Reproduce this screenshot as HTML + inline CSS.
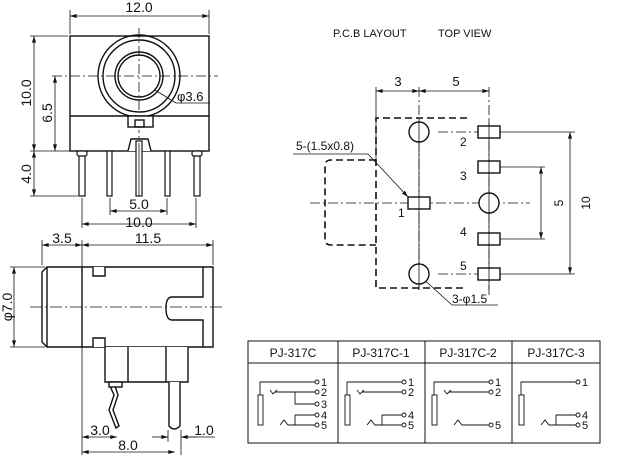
<!DOCTYPE html>
<html><head><meta charset="utf-8"><style>
html,body{margin:0;padding:0;background:#fff;}
svg{display:block;}
text{font-family:"Liberation Sans",sans-serif;fill:#111;}
</style></head><body>
<svg width="620" height="459" viewBox="0 0 620 459" xmlns="http://www.w3.org/2000/svg">
<defs>
<marker id="a" viewBox="0 0 10 6" refX="10" refY="3" markerWidth="10" markerHeight="4" orient="auto-start-reverse" markerUnits="userSpaceOnUse"><path d="M0,0 L10,3 L0,6z" fill="#111"/></marker>
</defs>
<g stroke="#111" fill="none" stroke-width="1.4">
<rect x="70" y="36" width="139" height="115"/>
<line x1="70" y1="116" x2="209" y2="116"/>
<circle cx="139" cy="76" r="41"/>
<circle cx="139" cy="76" r="36"/>
<circle cx="139" cy="76" r="24"/>
<circle cx="139" cy="76" r="21"/>
<rect x="128" y="116" width="25" height="11" fill="#fff"/>
<rect x="135" y="120" width="9" height="7"/>
<path d="M128,151 L131,139 L148,139 L151,151" fill="#fff"/>
</g>
<g stroke="#111" stroke-width="0.8" fill="none">
<line x1="139" y1="28" x2="139" y2="110" stroke-dasharray="10,3,2,3"/>
<line x1="52" y1="76" x2="218" y2="76" stroke-dasharray="10,3,2,3"/>
<line x1="139" y1="130" x2="139" y2="140" stroke-dasharray="3,3"/>
<line x1="155" y1="90" x2="176" y2="103"/><line x1="176" y1="103" x2="210" y2="103"/>
</g>
<text x="177" y="101" font-size="13">φ3.6</text>
<g stroke="#111" stroke-width="1.2" fill="#fff">
<rect x="79" y="153" width="6" height="43"/><rect x="107" y="151" width="5" height="45"/>
<rect x="136" y="141" width="6" height="55"/><rect x="165" y="151" width="5" height="45"/>
<rect x="194" y="153" width="6" height="43"/>
<rect x="77" y="151" width="10" height="5" rx="2"/><rect x="192" y="151" width="10" height="5" rx="2"/>
</g>
<line x1="139" y1="143" x2="139" y2="196" stroke="#111" stroke-width="0.8"/>
<g stroke="#111" stroke-width="0.8" fill="none">
<line x1="70" y1="10" x2="70" y2="34"/><line x1="209" y1="10" x2="209" y2="34"/>
<line x1="70" y1="16" x2="209" y2="16" marker-start="url(#a)" marker-end="url(#a)"/>
<line x1="30" y1="36" x2="68" y2="36"/><line x1="30" y1="151" x2="78" y2="151"/><line x1="30" y1="196" x2="78" y2="196"/>
<line x1="34" y1="36" x2="34" y2="151" marker-start="url(#a)" marker-end="url(#a)"/>
<line x1="34" y1="151" x2="34" y2="196" marker-start="url(#a)" marker-end="url(#a)"/>
<line x1="55" y1="76" x2="55" y2="151" marker-start="url(#a)" marker-end="url(#a)"/>
<line x1="110" y1="198" x2="110" y2="215"/><line x1="167" y1="198" x2="167" y2="215"/>
<line x1="82" y1="198" x2="82" y2="228"/><line x1="196" y1="198" x2="196" y2="228"/>
<line x1="110" y1="211" x2="167" y2="211" marker-start="url(#a)" marker-end="url(#a)"/>
<line x1="82" y1="224" x2="196" y2="224" marker-start="url(#a)" marker-end="url(#a)"/>
</g>
<text x="139" y="12" font-size="14" text-anchor="middle">12.0</text>
<text transform="translate(31,93) rotate(-90)" font-size="14" text-anchor="middle">10.0</text>
<text transform="translate(52,113) rotate(-90)" font-size="14" text-anchor="middle">6.5</text>
<text transform="translate(31,174) rotate(-90)" font-size="14" text-anchor="middle">4.0</text>
<text x="139" y="209" font-size="14" text-anchor="middle">5.0</text>
<text x="139" y="227" font-size="14" text-anchor="middle">10.0</text>
<g stroke="#111" stroke-width="1.4" fill="#fff">
<path d="M47,267 L213,267 L213,347 L47,347 L42,342 L42,272 Z"/>
<line x1="47" y1="267" x2="47" y2="347"/>
<line x1="82" y1="267" x2="82" y2="347"/>
<path d="M93,267 L93,276 L105,276 L105,267"/>
<path d="M93,347 L93,338 L105,338 L105,347"/>
<path d="M203,267 L203,297 L172,297 Q166,297 166,308 Q166,320 172,320 L203,320 L203,347"/>
<path d="M105,347 L105,382 L188,382 L188,347"/>
<line x1="128" y1="347" x2="128" y2="382"/><line x1="166" y1="347" x2="166" y2="382"/>
<path d="M169,382 L169,426 Q174,432 180,426 L180,382"/>
<path d="M110,382 L110,386 L114,395 L109,410 L116,428 L119,426 L113,410 L118,395 L115,386 L115,382"/>
<rect x="109" y="382" width="13" height="5"/>
</g>
<line x1="30" y1="307" x2="225" y2="307" stroke="#111" stroke-width="0.8" stroke-dasharray="12,3,2,3"/>
<g stroke="#111" stroke-width="0.8" fill="none">
<line x1="42" y1="240" x2="42" y2="265"/><line x1="82" y1="240" x2="82" y2="455"/><line x1="213" y1="240" x2="213" y2="265"/>
<line x1="42" y1="245" x2="82" y2="245" marker-start="url(#a)" marker-end="url(#a)"/>
<line x1="82" y1="245" x2="213" y2="245" marker-start="url(#a)" marker-end="url(#a)"/>
<line x1="10" y1="267" x2="45" y2="267"/><line x1="10" y1="347" x2="45" y2="347"/>
<line x1="14" y1="267" x2="14" y2="347" marker-start="url(#a)" marker-end="url(#a)"/>
<line x1="82" y1="437" x2="117" y2="437" marker-start="url(#a)" marker-end="url(#a)"/>
<line x1="82" y1="452" x2="175" y2="452" marker-start="url(#a)" marker-end="url(#a)"/>
<line x1="168" y1="430" x2="168" y2="442"/><line x1="181" y1="430" x2="181" y2="455"/>
<line x1="152" y1="437" x2="168" y2="437" marker-end="url(#a)"/>
<line x1="197" y1="437" x2="181" y2="437" marker-end="url(#a)"/>
<line x1="181" y1="437" x2="215" y2="437"/>
</g>
<text x="62" y="243" font-size="14" text-anchor="middle">3.5</text>
<text x="148" y="243" font-size="14" text-anchor="middle">11.5</text>
<text transform="translate(12,307) rotate(-90)" font-size="14" text-anchor="middle">φ7.0</text>
<text x="100" y="435" font-size="14" text-anchor="middle">3.0</text>
<text x="128" y="450" font-size="14" text-anchor="middle">8.0</text>
<text x="204" y="435" font-size="14" text-anchor="middle">1.0</text>
<text x="333" y="37" font-size="11">P.C.B LAYOUT</text>
<text x="438" y="37" font-size="11">TOP VIEW</text>
<g stroke="#111" stroke-width="1.6" fill="none" stroke-dasharray="7,4">
<path d="M467,118 L376,118 L376,288 L467,288"/>
<path d="M376,160 L331,160 Q325,160 325,166 L325,239 Q325,245 331,245 L376,245"/>
</g>
<g stroke="#111" stroke-width="0.8" fill="none">
<line x1="376" y1="87" x2="376" y2="160"/>
<line x1="419" y1="87" x2="419" y2="290" stroke-dasharray="10,3,2,3"/>
<line x1="489" y1="87" x2="489" y2="295" stroke-dasharray="10,3,2,3"/>
<line x1="376" y1="91" x2="419" y2="91" marker-start="url(#a)" marker-end="url(#a)"/>
<line x1="419" y1="91" x2="489" y2="91" marker-start="url(#a)" marker-end="url(#a)"/>
<line x1="310" y1="203" x2="530" y2="203" stroke-dasharray="10,3,2,3"/>
<line x1="438" y1="132" x2="478" y2="132" stroke-dasharray="10,3,2,3"/>
<line x1="438" y1="274" x2="478" y2="274" stroke-dasharray="10,3,2,3"/>
<line x1="500" y1="132" x2="575" y2="132"/><line x1="500" y1="274" x2="575" y2="274"/>
<line x1="500" y1="167" x2="545" y2="167"/><line x1="500" y1="239" x2="545" y2="239"/>
<line x1="570" y1="132" x2="570" y2="274" marker-start="url(#a)" marker-end="url(#a)"/>
<line x1="541" y1="167" x2="541" y2="239" marker-start="url(#a)" marker-end="url(#a)"/>
<line x1="293" y1="154" x2="368" y2="154"/><line x1="368" y1="154" x2="408" y2="197" marker-end="url(#a)"/>
<line x1="421" y1="277" x2="452" y2="305"/><line x1="452" y1="305" x2="498" y2="305"/>
</g>
<g stroke="#111" stroke-width="1.4" fill="#fff">
<circle cx="419" cy="132" r="10"/><circle cx="419" cy="274" r="10"/><circle cx="489" cy="203" r="10"/>
<rect x="408" y="197" width="22" height="12"/>
<rect x="478" y="126" width="22" height="12"/><rect x="478" y="161" width="22" height="12"/>
<rect x="478" y="233" width="22" height="12"/><rect x="478" y="268" width="22" height="12"/>
</g>
<g stroke="#111" stroke-width="0.8"><line x1="419" y1="120" x2="419" y2="290"/><line x1="489" y1="120" x2="489" y2="290"/></g>
<g font-size="12">
<text x="296" y="150">5-(1.5x0.8)</text>
<text x="398" y="217">1</text>
<text x="460" y="146">2</text><text x="460" y="180">3</text>
<text x="460" y="236">4</text><text x="460" y="270">5</text>
<text x="452" y="303">3-φ1.5</text>
<text x="398" y="86" font-size="13" text-anchor="middle">3</text>
<text x="456" y="86" font-size="13" text-anchor="middle">5</text>
<text transform="translate(563,203) rotate(-90)" text-anchor="middle">5</text>
<text transform="translate(590,203) rotate(-90)" text-anchor="middle">10</text>
</g>
<g stroke="#111" stroke-width="1" fill="none">
<rect x="248" y="341" width="352" height="102"/>
<line x1="248" y1="363" x2="600" y2="363"/>
<line x1="338" y1="341" x2="338" y2="443"/><line x1="425" y1="341" x2="425" y2="443"/><line x1="512" y1="341" x2="512" y2="443"/>
</g>
<g font-size="12" text-anchor="middle">
<text x="293" y="357">PJ-317C</text><text x="381" y="357">PJ-317C-1</text>
<text x="468" y="357">PJ-317C-2</text><text x="556" y="357">PJ-317C-3</text>
</g>
<g stroke="#111" stroke-width="0.9" fill="none">
<g>
<rect x="258" y="395" width="5" height="30"/>
<path d="M260,395 L260,382 L315,382"/><circle cx="317" cy="382" r="2"/>
<path d="M270,390 L273,394 L277,390 M275,392 L315,392"/><circle cx="317" cy="392" r="2"/>
<path d="M295,392 L295,404 L315,404"/><circle cx="317" cy="404" r="2"/>
<path d="M295,415 L315,415 M295,415 L295,425"/><circle cx="317" cy="415" r="2"/>
<path d="M280,425 L284,420 L288,425 L315,425"/><circle cx="317" cy="425" r="2"/>
</g>
<g transform="translate(87,0)">
<rect x="258" y="395" width="5" height="30"/>
<path d="M260,395 L260,382 L315,382"/><circle cx="317" cy="382" r="2"/>
<path d="M270,390 L273,394 L277,390 M275,392 L315,392"/><circle cx="317" cy="392" r="2"/>
<path d="M295,415 L315,415 M295,415 L295,425"/><circle cx="317" cy="415" r="2"/>
<path d="M280,425 L284,420 L288,425 L315,425"/><circle cx="317" cy="425" r="2"/>
</g>
<g transform="translate(174,0)">
<rect x="258" y="395" width="5" height="30"/>
<path d="M260,395 L260,382 L315,382"/><circle cx="317" cy="382" r="2"/>
<path d="M270,390 L273,394 L277,390 M275,392 L315,392"/><circle cx="317" cy="392" r="2"/>
<path d="M280,425 L284,420 L288,425 L315,425"/><circle cx="317" cy="425" r="2"/>
</g>
<g transform="translate(261,0)">
<rect x="258" y="395" width="5" height="30"/>
<path d="M260,395 L260,382 L315,382"/><circle cx="317" cy="382" r="2"/>
<path d="M295,415 L315,415 M295,415 L295,425"/><circle cx="317" cy="415" r="2"/>
<path d="M280,425 L284,420 L288,425 L315,425"/><circle cx="317" cy="425" r="2"/>
</g>
</g>
<g font-size="11">
<text x="321" y="386">1</text><text x="321" y="396">2</text><text x="321" y="408">3</text><text x="321" y="419">4</text><text x="321" y="429">5</text>
<text x="408" y="386">1</text><text x="408" y="396">2</text><text x="408" y="419">4</text><text x="408" y="429">5</text>
<text x="495" y="386">1</text><text x="495" y="396">2</text><text x="495" y="429">5</text>
<text x="582" y="386">1</text><text x="582" y="419">4</text><text x="582" y="429">5</text>
</g>
</svg>
</body></html>
